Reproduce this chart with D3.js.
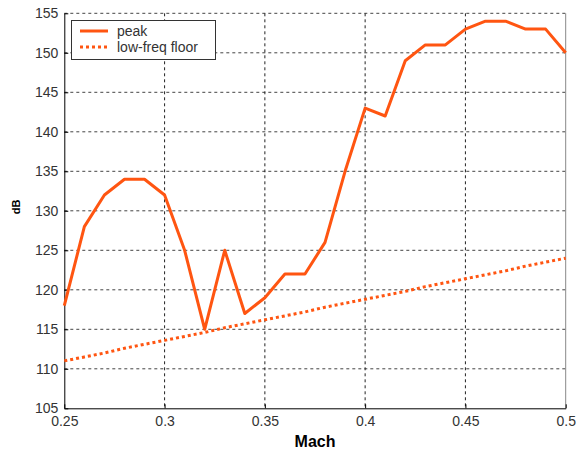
<!DOCTYPE html>
<html><head><meta charset="utf-8">
<script src="https://cdn.jsdelivr.net/npm/d3@7"></script>
<style>body{margin:0;background:#fff}svg{display:block}</style>
</head><body>
<svg id="c" width="576" height="453"></svg>
<script>
const mach = [0.25,0.26,0.27,0.28,0.29,0.30,0.31,0.32,0.33,0.34,0.35,0.36,0.37,0.38,0.39,0.40,0.41,0.42,0.43,0.44,0.45,0.46,0.47,0.48,0.49,0.50];
const peak = [118,128,132,134,134,132,125,115,125,117,119,122,122,126,135,143,142,149,151,151,153,154,154,153,153,150];
const floorDb = [111,111.5,112,112.6,113.1,113.6,114.1,114.6,115.2,115.7,116.2,116.7,117.2,117.8,118.3,118.8,119.3,119.8,120.4,120.9,121.4,121.9,122.4,123,123.5,124];
const xTicks = [0.25,0.3,0.35,0.4,0.45,0.5];
const yTicks = [105,110,115,120,125,130,135,140,145,150,155];
const seriesNames = ["peak","low-freq floor"];

const L=64.3,R=565.7,T=13.3,B=408.3;
const color="#ff5511";
const svg=d3.select("#c");
const x=d3.scaleLinear().domain([0.25,0.5]).range([L,R]);
const y=d3.scaleLinear().domain([105,155]).range([B,T]);
const font="Liberation Sans, Arial, sans-serif";

// grid
const g=svg.append("g");
g.selectAll("line.hx").data(yTicks.slice(1)).join("line")
 .attr("x1",L).attr("x2",R).attr("y1",d=>y(d)).attr("y2",d=>y(d))
 .attr("stroke","#444").attr("stroke-width",1).attr("stroke-dasharray","3,3");
g.selectAll("line.vx").data(xTicks.slice(1,-1)).join("line")
 .attr("y1",T).attr("y2",B).attr("x1",d=>x(d)).attr("x2",d=>x(d))
 .attr("stroke","#222").attr("stroke-width",1).attr("stroke-dasharray","3,3");
// right edge
svg.append("line").attr("x1",R).attr("x2",R).attr("y1",T).attr("y2",B).attr("stroke","#888").attr("stroke-width",1);

// axes
const xa=svg.append("g").attr("transform",`translate(0,${B})`)
 .call(d3.axisBottom(x).tickValues(xTicks).tickFormat(d=>String(+d.toFixed(2))).tickSizeInner(-4).tickSizeOuter(0).tickPadding(8));
const ya=svg.append("g").attr("transform",`translate(${L},0)`)
 .call(d3.axisLeft(y).tickValues(yTicks).tickSizeInner(-4).tickSizeOuter(0).tickPadding(6));
[xa,ya].forEach(a=>{
 a.select(".domain").attr("stroke","#000").attr("stroke-width",1);
 a.selectAll(".tick line").attr("stroke","#000");
 a.selectAll("text").attr("font-family",font).attr("font-size",14).attr("fill","#333");
});
xa.selectAll("text").attr("dy","0.72em");

// lines
const line=d3.line().x((d,i)=>x(mach[i])).y(d=>y(d));
svg.append("path").datum(floorDb).attr("d",line).attr("fill","none").attr("stroke",color)
 .attr("stroke-width",3).attr("stroke-dasharray","3,3");
svg.append("path").datum(peak).attr("d",line).attr("fill","none").attr("stroke",color)
 .attr("stroke-width",3).attr("stroke-linejoin","round");

// labels
svg.append("text").attr("x",(L+R)/2).attr("y",446.5).attr("text-anchor","middle")
 .attr("font-family",font).attr("font-weight","bold").attr("font-size",16).text("Mach");
svg.append("text").attr("transform",`translate(19.5,207) rotate(-90)`).attr("text-anchor","middle")
 .attr("font-family",font).attr("font-weight","bold").attr("font-size",11).text("dB");

// legend
const lg=svg.append("g");
lg.append("rect").attr("x",71.5).attr("y",20.5).attr("width",144).attr("height",39)
 .attr("fill","#fff").attr("stroke","#333").attr("stroke-width",1);
seriesNames.forEach((n,i)=>{
 const yy=31+i*16;
 lg.append("line").attr("x1",80).attr("x2",108).attr("y1",yy).attr("y2",yy)
  .attr("stroke",color).attr("stroke-width",3).attr("stroke-dasharray",i?"3,3":null);
 lg.append("text").attr("x",117).attr("y",yy+5).attr("font-family",font).attr("font-size",14)
  .attr("fill","#333").text(n);
});
</script>
</body></html>
